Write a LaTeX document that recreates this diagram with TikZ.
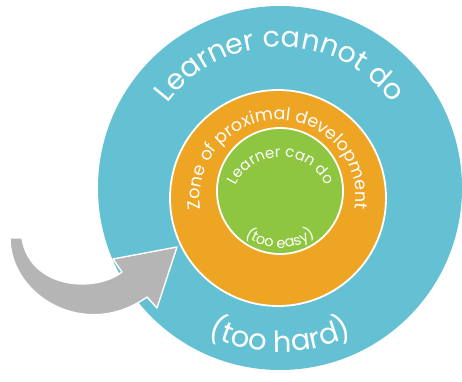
\documentclass[tikz,border=0pt]{standalone}
\usepackage{fontspec}
\setmainfont{Poppins}
\usetikzlibrary{decorations.text}

\definecolor{hardblue}{HTML}{64C1D3}
\definecolor{zpdorange}{HTML}{EEA524}
\definecolor{easygreen}{HTML}{8EC641}
\definecolor{arrowgray}{HTML}{B5B5B5}

\begin{document}
\begin{tikzpicture}[x=1pt,y=1pt]

% Radii of the three zones
\def\rhard{182}
\def\rzpd{108}
\def\reasy{63}

% Frame of the picture
\clip (0,0) rectangle (462,381);
\fill[white] (0,0) rectangle (462,381);

% Centres
\coordinate (H) at (280,193);
\coordinate (Z) at (278,183);
\coordinate (E) at (280,190);
\coordinate (T) at (281,174);

% Outer zone (too hard)
\fill[hardblue] (H) circle (\rhard);

% Zone of proximal development
\filldraw[fill=zpdorange, draw=white, line width=1.8] (Z) circle (\rzpd);

% Inner zone (too easy)
\filldraw[fill=easygreen, draw=white, line width=1.8] (E) circle (\reasy);

% Curved arrow pointing into the orange zone
\filldraw[fill=arrowgray, draw=white, line width=1.4, line join=round]
  (10,143) .. controls (10,85) and (85,40) .. (147,84)
  -- (157,73) -- (177,134) -- (113,122) -- (122,109)
  .. controls (95,88) and (30,92) .. (22,143) -- cycle;

% Labels along the rings
\path[decorate, decoration={text along path, text align=center, text color=white,
  text={|\fontsize{28.5}{28.5}\selectfont|Learner cannot do}}]
  (H) ++(150:141) arc (150:30:141);
\path[decorate, decoration={text along path, text align=center, text color=white,
  text={|\fontsize{29}{29}\selectfont|(too hard)}}]
  (H) ++(225:164) arc (225:315:164);
\path[decorate, decoration={text along path, text align=center, text color=white,
  text={|\fontsize{17.5}{17.5}\selectfont|Zone of proximal development}}]
  (Z) ++(192:78) arc (192:-12:78);
\path[decorate, decoration={text along path, text align=center, text color=white,
  text={|\fontsize{15}{15}\selectfont|Learner can do}}]
  (T) ++(165:50) arc (165:15:50);
\path[decorate, decoration={text along path, text align=center, text color=white,
  text={|\fontsize{14.5}{14.5}\selectfont|(too easy)}}]
  (E) ++(225:57) arc (225:315:57);

\end{tikzpicture}
\end{document}
